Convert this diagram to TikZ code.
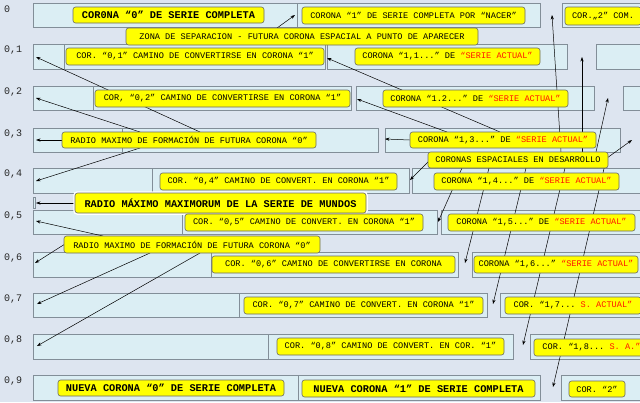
\documentclass[tikz,border=0pt]{standalone}
\usepackage{fontspec}
\setmonofont{Liberation Mono}
\usetikzlibrary{arrows.meta}
\definecolor{bgc}{RGB}{221,229,240}
\definecolor{boxc}{RGB}{219,238,244}
\definecolor{boxb}{RGB}{130,142,152}
\definecolor{labb}{RGB}{105,105,105}
\definecolor{labf}{RGB}{255,255,0}
\definecolor{redt}{RGB}{255,20,0}
\pgfdeclarelayer{boxes}\pgfdeclarelayer{lines}\pgfsetlayers{boxes,lines,main}
\newcommand{\SA}{\textcolor{redt}{“SERIE ACTUAL”}}
\newcommand{\lbl}[7][lab]{\node[#1,minimum width={#5-#3},minimum height={#6-#4}] (#2) at ({(#3+#5)/2},{(#4+#6)/2}) {#7};}
\newcommand{\rb}[4]{\filldraw[rowbox] (#1,#3) rectangle (#2,#4);}
\begin{document}
\begin{tikzpicture}[x=1pt,y=-1pt,
 rowbox/.style={fill=boxc,draw=boxb,line width=0.6pt},
 lab/.style={draw=labb,fill=labf,rounded corners=2.5pt,line width=0.6pt,inner sep=0pt,font=\ttfamily\fontsize{8.6}{10}\selectfont},
 biglab/.style={lab,font=\ttfamily\bfseries\fontsize{10.3}{12}\selectfont},
 halolab/.style={biglab,preaction={draw=white,line width=3.5pt}},
 num/.style={anchor=west,inner sep=0pt,font=\ttfamily\fontsize{10}{12}\selectfont,text=black!85},
 conn/.style={-{Stealth[length=4.5pt,width=3.2pt]},line width=0.5pt,draw=black}]
\useasboundingbox (0,0) rectangle (640,402);

% background and row boxes
\begin{pgfonlayer}{boxes}
\fill[bgc] (0,0) rectangle (640,402);
\rb{33}{297}{3}{27}\rb{297}{540}{3}{27}\rb{562}{650}{3}{27}
\rb{33}{64}{44}{69}\rb{64}{325}{44}{69}\rb{327}{567}{44}{69}\rb{596}{650}{44}{69}
\rb{33}{93}{86}{110}\rb{93}{351}{86}{110}\rb{356}{594}{86}{110}\rb{623}{650}{86}{110}
\rb{33}{122}{128}{152}\rb{122}{378}{128}{152}\rb{385}{620}{128}{152}
\rb{33}{152}{168}{193}\rb{152}{409}{168}{193}\rb{412}{650}{168}{193}
\rb{33}{35.5}{197}{208}
\rb{33}{182}{210}{234}\rb{182}{437}{210}{234}\rb{441}{650}{210}{234}
\rb{33}{211}{252}{277}\rb{211}{458}{252}{277}\rb{472}{650}{252}{277}
\rb{33}{239}{293}{317}\rb{239}{487}{293}{317}\rb{500}{650}{293}{317}
\rb{33}{268}{334}{359}\rb{268}{513}{334}{359}\rb{530}{650}{334}{359}
\rb{33}{298}{375}{400}\rb{298}{540}{375}{400}\rb{561}{650}{375}{400}
\end{pgfonlayer}

% row numbers
\node[num] (n0) at (4,9) {0};
\node[num] (n1) at (4,50) {0,1};
\node[num] (n2) at (4,92) {0,2};
\node[num] (n3) at (4,134) {0,3};
\node[num] (n4) at (4,174) {0,4};
\node[num] (n5) at (4,216) {0,5};
\node[num] (n6) at (4,258) {0,6};
\node[num] (n7) at (4,299) {0,7};
\node[num] (n8) at (4,340) {0,8};
\node[num] (n9) at (4,381) {0,9};

% labels
\lbl[biglab]{l1}{73}{7}{264}{23}{COR0NA “0” DE SERIE COMPLETA}
\lbl{l2}{302}{7}{525}{24}{CORONA “1” DE SERIE COMPLETA POR “NACER”}
\lbl{l3}{565}{7}{641}{25}{COR.„2” COM.}
\lbl{l4}{126}{28}{478}{45}{ZONA DE SEPARACION - FUTURA CORONA ESPACIAL A PUNTO DE APARECER}
\lbl{l5}{66}{48}{324}{65}{COR. “0,1” CAMINO DE CONVERTIRSE EN CORONA “1”}
\lbl{l6}{355}{48}{540}{65}{CORONA “1,1...” DE \SA}
\lbl{l7}{95}{90}{350}{107}{COR, “0,2” CAMINO DE CONVERTIRSE EN CORONA “1”}
\lbl{l8}{383}{90}{568}{107}{CORONA “1.2...” DE \SA}
\lbl{l9}{62}{132}{316}{148}{RADIO MAXIMO DE FORMACIÓN DE FUTURA CORONA “0”}
\lbl{l10}{410}{132}{596}{148}{CORONA “1,3...” DE \SA}
\lbl{l11}{428}{152}{608}{168}{CORONAS ESPACIALES EN DESARROLLO}
\lbl{l12}{160}{173}{397}{190}{COR. “0,4” CAMINO DE CONVERT. EN CORONA “1”}
\lbl{l13}{434}{173}{619}{190}{CORONA “1,4...” DE \SA}
\lbl[halolab]{l14}{75}{193}{366}{213}{RADIO MÁXIMO MAXIMORUM DE LA SERIE DE MUNDOS}
\lbl{l15}{185}{214}{423}{231}{COR. “0,5” CAMINO DE CONVERT. EN CORONA “1”}
\lbl{l16}{448}{214}{635}{231}{CORONA “1,5...” DE \SA}
\lbl{l17}{64}{236}{320}{253}{RADIO MAXIMO DE FORMACIÓN DE FUTURA CORONA “0”}
\lbl{l18}{212}{256}{455}{273}{COR. “0,6” CAMINO DE CONVERTIRSE EN CORONA}
\lbl{l19}{474}{256}{638}{273}{CORONA “1,6...” \SA}
\lbl{l20}{244}{297}{483}{314}{COR. “0,7” CAMINO DE CONVERT. EN CORONA “1”}
\lbl{l21}{505}{297}{641}{314}{COR. “1,7... \textcolor{redt}{S. ACTUAL”}}
\lbl{l22}{277}{338}{504}{355}{COR. “0,8” CAMINO DE CONVERT. EN COR. “1”}
\lbl{l23}{534}{339}{649}{356}{COR. “1,8... \textcolor{redt}{S. A.”}}
\lbl[biglab]{l24}{58}{380}{284}{396}{NUEVA CORONA “0” DE SERIE COMPLETA}
\lbl[biglab]{l25}{302}{380}{535}{397}{NUEVA CORONA “1” DE SERIE COMPLETA}
\lbl{l26}{569}{381}{625}{397}{COR. “2”}

% connector end points
\coordinate (tA) at (36,57);  \coordinate (tB) at (36,98);
\coordinate (tC) at (36,140); \coordinate (tD) at (36,181);
\coordinate (tE) at (36,203); \coordinate (tF) at (36,221);
\coordinate (tG) at (35,263); \coordinate (tH) at (37,304);
\coordinate (tI) at (37,346); \coordinate (tJ) at (295,15);
\coordinate (tK) at (327,58); \coordinate (tL) at (357,99);
\coordinate (tM) at (385,139); \coordinate (tN) at (410,180);
\coordinate (tO) at (438,222); \coordinate (tP) at (465,263);
\coordinate (tQ) at (493,304); \coordinate (tR) at (523,345);
\coordinate (tS) at (553,387); \coordinate (tT) at (552,15);
\coordinate (tU) at (582,57);  \coordinate (tV) at (608,98);
\coordinate (tW) at (632,140);
% connector start points (under the labels)
\coordinate (sA) at (200,132); \coordinate (sB) at (140,132);
\coordinate (sD) at (140,148); \coordinate (sF) at (103,236);
\coordinate (sG) at (65,244);  \coordinate (sH) at (150,253);
\coordinate (sI) at (200,253); \coordinate (sJ) at (277,28);
\coordinate (sK) at (500,132); \coordinate (sL) at (447,132);
\coordinate (sN) at (430,160); \coordinate (sO) at (462,168);
\coordinate (sP) at (489,168); \coordinate (sQ) at (526,168);
\coordinate (sR) at (565,168); \coordinate (sS) at (606,160);
\coordinate (sT) at (561,152); \coordinate (sU) at (582,152);
\coordinate (sV) at (596,152); \coordinate (sW) at (607,158);

\begin{pgfonlayer}{lines}
\draw[conn] (sA) -- (tA);
\draw[conn] (sB) -- (tB);
\draw[conn] (l9.west) -- (tC);
\draw[conn] (sD) -- (tD);
\draw[conn] (l14.west) -- (tE);
\draw[conn] (sF) -- (tF);
\draw[conn] (sG) -- (tG);
\draw[conn] (sH) -- (tH);
\draw[conn] (sI) -- (tI);
\draw[conn] (sJ) -- (tJ);
\draw[conn] (sK) -- (tK);
\draw[conn] (sL) -- (tL);
\draw[conn] (l10.west) -- (tM);
\draw[conn] (sN) -- (tN);
\draw[conn] (sO) -- (tO);
\draw[conn] (sP) -- (tP);
\draw[conn] (sQ) -- (tQ);
\draw[conn] (sR) -- (tR);
\draw[conn] (sS) -- (tS);
\draw[conn] (sT) -- (tT);
\draw[conn] (sU) -- (tU);
\draw[conn] (sV) -- (tV);
\draw[conn] (sW) -- (tW);
\end{pgfonlayer}
\end{tikzpicture}
\end{document}
